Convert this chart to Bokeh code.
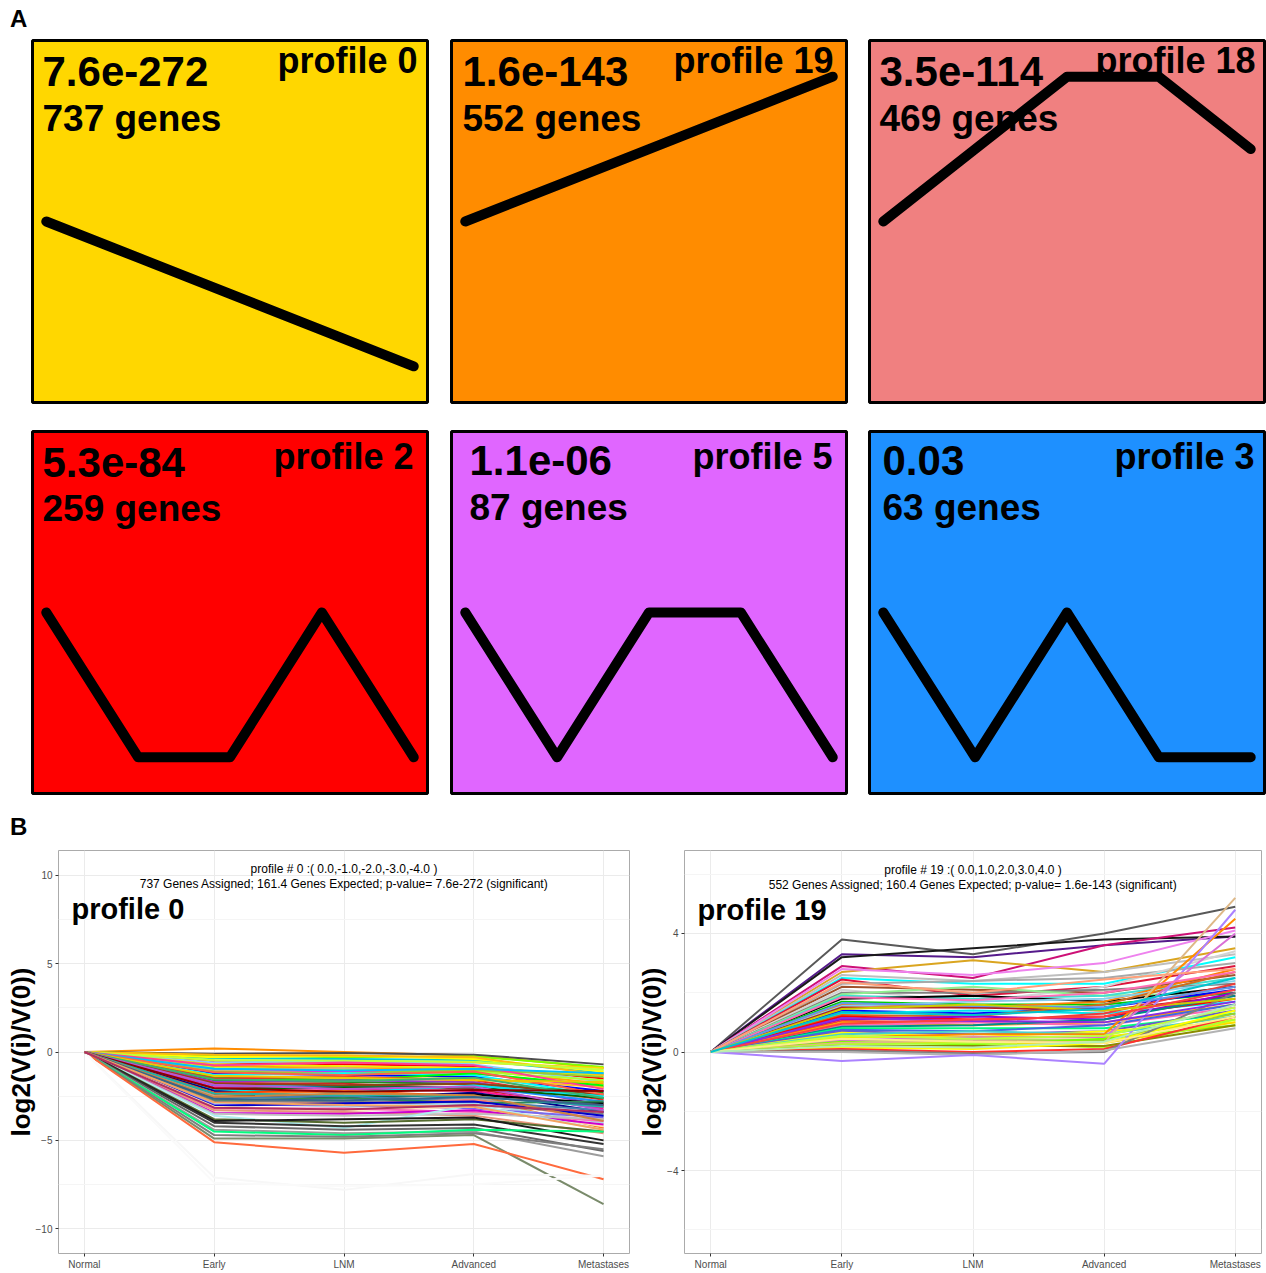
from bokeh.plotting import figure
from bokeh.layouts import column, row
from bokeh.models import Range1d, FixedTicker, Div, Spacer, ColumnDataSource
from bokeh.core.properties import value
from bokeh.embed import file_html
from bokeh.resources import INLINE

FONT = "Liberation Sans"

# ---------------- Panel A : STEM model profiles ----------------
a_profile_ids = ["0", "19", "18", "2", "5", "3"]
a_pvalues = ["7.6e-272", "1.6e-143", "3.5e-114", "5.3e-84", "1.1e-06", "0.03"]
a_gene_counts = [737, 552, 469, 259, 87, 63]
a_model_values = [
    [0, -1, -2, -3, -4],
    [0, 1, 2, 3, 4],
    [0, 1, 2, 2, 1],
    [0, -1, -1, 0, -1],
    [0, -1, 0, 0, -1],
    [0, -1, 0, -1, -1],
]
a_box_colors = ["#FFD700", "#FF8C00", "#F08080", "#FF0000", "#E066FF", "#1E90FF"]
a_time_points = [0, 1, 2, 3, 4]

# ---------------- Panel B : gene expression traces ----------------
b_stages = ["Normal", "Early", "LNM", "Advanced", "Metastases"]
b_stage_index = [0, 1, 2, 3, 4]

# profile 0 genes
p0_early = [0.2, -0.1, -0.2, -0.35, -0.3, -0.5, -0.6, -0.6, -0.7, -0.8, -0.9, -1.0, -1.05, -1.1,
            -1.2, -1.3, -1.4, -1.45, -1.5, -1.6, -1.7, -1.75, -1.8, -1.9, -2.0, -2.1, -2.15, -2.2,
            -2.3, -2.4, -2.45, -2.5, -2.6, -2.7, -2.75, -2.8, -2.9, -3.0, -3.05, -3.1, -3.2, -3.3,
            -3.45, -3.5, -3.6, -3.8, -3.9, -4.0, -4.2, -4.4, -4.5, -4.7, -4.9, -5.1, -7.1, -7.4,
            -0.15, -0.45, -0.75, -0.95, -1.15, -1.35, -1.55, -1.85, -2.05, -2.35, -2.55, -2.65,
            -2.85, -3.15]
p0_lnm = [0.0, -0.05, -0.3, -0.4, -0.2, -0.6, -0.7, -0.5, -0.8, -0.9, -1.0, -1.1, -0.9, -1.2,
          -1.3, -1.2, -1.5, -1.6, -1.4, -1.7, -1.6, -1.8, -1.9, -2.0, -2.1, -2.0, -2.3, -2.6,
          -2.2, -2.6, -2.2, -2.7, -2.5, -2.9, -2.6, -2.8, -3.1, -3.0, -2.9, -3.3, -3.2, -3.4,
          -3.5, -3.6, -4.3, -4.0, -3.8, -4.2, -4.4, -4.6, -4.7, -4.8, -4.9, -5.7, -7.8, -7.6,
          -0.2, -0.5, -0.6, -1.05, -1.3, -1.45, -1.65, -2.1, -2.25, -2.45, -2.35, -2.75,
          -3.0, -3.25]
p0_adv = [-0.2, -0.15, -0.25, -0.45, -0.4, -0.6, -0.8, -0.7, -0.9, -1.0, -1.1, -1.2, -1.3, -1.0,
          -1.4, -1.3, -1.5, -1.2, -1.6, -1.8, -1.7, -2.1, -1.8, -2.0, -2.2, -2.0, -1.9, -2.3,
          -2.5, -2.4, -2.6, -2.6, -2.8, -2.7, -2.9, -3.0, -2.9, -3.2, -2.8, -3.1, -3.4, -3.6,
          -3.3, -3.5, -3.0, -3.8, -3.7, -4.1, -4.3, -4.5, -4.4, -4.6, -4.7, -5.2, -6.9, -7.5,
          -0.3, -0.55, -0.75, -0.95, -1.1, -1.6, -1.45, -1.95, -2.15, -2.5, -2.45, -2.55,
          -3.1, -3.0]
p0_met = [-0.9, -0.7, -0.85, -1.2, -1.1, -0.9, -1.5, -1.7, -1.3, -1.8, -1.6, -2.0, -2.9, -1.4,
          -2.2, -2.5, -2.0, -1.9, -2.7, -2.3, -3.0, -3.1, -2.4, -2.8, -3.2, -2.6, -2.5, -3.4,
          -3.0, -2.9, -4.3, -3.6, -3.3, -3.8, -2.8, -3.5, -4.0, -3.7, -3.6, -4.2, -3.9, -4.6,
          -4.1, -3.8, -4.4, -4.5, -5.0, -5.2, -5.6, -5.9, -4.5, -5.5, -8.6, -7.2, -7.0, -7.0,
          -1.3, -1.0, -2.1, -1.2, -2.4, -1.7, -2.6, -3.3, -2.2, -3.1, -3.9, -3.0,
          -4.4, -3.4]
p0_colors = ["#FF8C00", "#4D4D4D", "#7FFF00", "#00CED1", "#FFFF00", "#FFD700", "#FF0000", "#87CEFA",
             "#EEEE00", "#FFA500", "#ADFF2F", "#FF00FF", "#D2B48C", "#9ACD32", "#0000FF", "#00FFFF",
             "#FFC125", "#00FF00", "#EE2C2C", "#228B22", "#9932CC", "#CD2626", "#8B4513", "#1E90FF",
             "#FF1493", "#006400", "#00E5EE", "#00008B", "#FF4500", "#000000", "#FF7F24", "#A9A9A9",
             "#4682B4", "#FA8072", "#2E8B57", "#808080", "#ADD8E6", "#7B68EE", "#0000CD", "#FFE4B5",
             "#FF69B4", "#E9967A", "#CD00CD", "#BEBEBE", "#AEEEEE", "#556B2F", "#1A1A1A", "#333333",
             "#696969", "#9C9C9C", "#00FF7F", "#7F7F7F", "#7A8B6B", "#FF6A3D", "#F7F7F7", "#FAFAFA",
             "#FFB90F", "#C0FF3E", "#FF3E96", "#00BFFF", "#FF6347", "#EEC900", "#3CB371", "#BA55D3",
             "#8B0000", "#20B2AA", "#CD853F", "#36648B", "#F4A460", "#B03060"]
p0_normal = [0.0] * len(p0_early)

# profile 19 genes
p19_early = [3.8, 3.3, 3.2, 2.9, 2.7, 2.8, 2.6, 2.5, 2.45, 2.3, 2.2, 2.1, 2.0, 1.95, 1.9, 1.8,
             1.7, 1.6, 1.55, 1.5, 1.4, 1.3, 1.25, 1.2, 1.1, 1.05, 1.0, 0.9, 0.85, 0.8, 0.75, 0.7,
             0.65, 0.6, 0.5, 0.5, 0.4, 0.4, 0.35, 0.3, 0.3, 0.25, 0.2, 0.15, 0.1, 0.05, 0.0, -0.3,
             1.85, 1.65, 1.45, 1.15, 0.95, 0.55, 0.45, 0.2, 2.35, 1.35]
p19_lnm = [3.3, 3.2, 3.5, 2.5, 3.1, 2.6, 2.4, 2.3, 1.9, 2.4, 2.1, 1.7, 2.0, 2.2, 1.8, 1.9,
           1.6, 1.5, 1.7, 1.5, 1.3, 1.4, 1.2, 1.1, 1.2, 1.0, 0.9, 1.0, 0.9, 0.8, 0.7, 0.6,
           0.5, 0.7, 0.6, 0.5, 0.4, 0.5, 0.25, 0.3, 0.4, 0.3, 0.2, 0.1, 0.0, -0.05, -0.1, -0.1,
           1.75, 1.55, 1.6, 1.05, 1.1, 0.45, 0.35, 0.15, 2.0, 1.25]
p19_adv = [4.0, 3.6, 3.8, 3.6, 2.7, 3.0, 2.7, 2.3, 2.2, 2.5, 2.0, 2.2, 2.1, 1.9, 1.9, 1.7,
           1.6, 1.7, 1.8, 1.4, 1.5, 1.3, 1.6, 1.2, 1.1, 1.3, 1.0, 0.9, 1.1, 0.8, 0.9, 0.7,
           0.7, 0.6, 0.6, 0.5, 0.4, 0.5, 0.45, 0.3, 0.3, 0.15, 0.2, 0.3, 0.1, 0.0, 0.05, -0.4,
           2.0, 1.5, 1.4, 1.0, 1.2, 0.55, 0.3, 0.35, 2.45, 1.45]
p19_met = [4.9, 3.9, 3.9, 4.2, 3.5, 4.1, 3.3, 3.2, 2.9, 3.0, 2.6, 3.4, 2.3, 2.0, 2.5, 2.2,
           2.0, 2.8, 2.4, 1.9, 2.1, 1.7, 2.7, 1.8, 2.0, 2.3, 1.6, 1.5, 1.9, 1.3, 1.6, 1.4,
           1.0, 1.2, 4.5, 1.1, 1.3, 4.0, 0.9, 1.0, 5.2, 1.1, 0.9, 1.4, 1.2, 2.0, 0.8, 4.8,
           2.7, 2.2, 1.8, 1.7, 2.1, 1.5, 1.2, 1.6, 2.8, 2.5]
p19_colors = ["#595959", "#551A8B", "#1A1A1A", "#CD1076", "#DAA520", "#EE82EE", "#BEBEBE", "#00FFFF",
              "#DC143C", "#A9A9A9", "#A0522D", "#D3D3D3", "#808080", "#90EE90", "#40E0D0", "#000000",
              "#00CD00", "#FF7F00", "#87CEEB", "#B22222", "#0000FF", "#00E5EE", "#D2691E", "#FF0000",
              "#9400D3", "#EE3B3B", "#FFA500", "#FF69B4", "#008B8B", "#00FF7F", "#4169E1", "#6A5ACD",
              "#FFFF00", "#48D1CC", "#FF8C00", "#EEEE00", "#9ACD32", "#DA70D6", "#7CFC00", "#FFD700",
              "#DEB887", "#ADFF2F", "#8B8B00", "#FFFF00", "#FF3030", "#7F7F7F", "#B3B3B3", "#AB82FF",
              "#FF6EB4", "#6495ED", "#CDCD00", "#8A2BE2", "#FF4040", "#C0FF3E", "#FFEC8B", "#B4EEB4",
              "#FFA07A", "#00C5CD"]
p19_normal = [0.0] * len(p19_early)

# ---------------- Panel A figures ----------------
BOX_W, BOX_H, PAD = 395, 362, 2
a_left_inset = [10, 11, 10, 10, 18, 13]
a_right_inset = [10, 13, 9, 14, 14, 10]
a_baselines = [(31, 78, 20), (31, 78, 20), (31, 78, 20), (31, 77, 25), (29, 76, 25), (29, 76, 25)]


def profile_box(i):
    vals = a_model_values[i]
    lim = 1.25 * max(abs(v) for v in vals)
    xr = Range1d(-0.15, 4.15)
    yr = Range1d(-lim, lim)
    p = figure(width=BOX_W + 2 * PAD, height=BOX_H + 2 * PAD, x_range=xr, y_range=yr,
               x_axis_type=None, y_axis_type=None, output_backend="svg",
               toolbar_location=None, min_border=PAD)
    p.grid.visible = False
    p.background_fill_color = a_box_colors[i]
    p.border_fill_color = "white"
    p.outline_line_color = "black"
    p.outline_line_width = 3

    def dx(px):
        return xr.start + px / BOX_W * (xr.end - xr.start)

    def dy(px):
        return yr.end - px / BOX_H * (yr.end - yr.start)

    b1, b2, b3 = a_baselines[i]
    common = dict(text_font=value(FONT), text_font_style="bold", text_baseline="alphabetic",
                  text_color="black")
    p.text(x=[dx(a_left_inset[i])], y=[dy(b1)], text=[a_pvalues[i]], text_align="left",
           text_font_size="42px", **common)
    p.text(x=[dx(a_left_inset[i])], y=[dy(b2)], text=["%d genes" % a_gene_counts[i]],
           text_align="left", text_font_size="37px", **common)
    p.text(x=[dx(BOX_W - a_right_inset[i])], y=[dy(b3)], text=["profile " + a_profile_ids[i]],
           text_align="right", text_font_size="36px", **common)
    p.line(a_time_points, vals, line_width=10, line_color="black", line_cap="round",
           line_join="round")
    return p


boxes = [profile_box(i) for i in range(6)]

# ---------------- Panel B figures ----------------


def gene_fig(normal, early, lnm, adv, met, colors, ylim, yticks, yminor, title1, title2,
             big, big_x, big_y, t_y1, t_y2, width, bl, br):
    n = len(early)
    src = ColumnDataSource(dict(
        xs=[list(b_stage_index) for _ in range(n)],
        ys=[[normal[k], early[k], lnm[k], adv[k], met[k]] for k in range(n)],
        c=colors,
    ))
    p = figure(width=width, height=431, x_range=Range1d(-0.2, 4.2),
               y_range=Range1d(-ylim, ylim), output_backend="svg", toolbar_location=None,
               min_border_left=bl, min_border_right=br, min_border_top=9, min_border_bottom=16)
    p.background_fill_color = "white"
    p.outline_line_color = "#ABABAB"
    p.outline_line_width = 1
    xt = FixedTicker(ticks=b_stage_index)
    yt = FixedTicker(ticks=yticks, minor_ticks=yminor)
    p.xaxis.ticker = xt
    p.xgrid.ticker = xt
    p.yaxis.ticker = yt
    p.ygrid.ticker = yt
    p.xaxis.major_label_overrides = {i: s for i, s in zip(b_stage_index, b_stages)}
    p.grid.grid_line_color = "#EBEBEB"
    p.grid.grid_line_width = 1
    p.ygrid.minor_grid_line_color = "#F5F5F5"
    p.axis.axis_line_color = None
    p.axis.minor_tick_line_color = None
    p.axis.major_tick_line_color = "#333333"
    p.axis.major_tick_out = 3
    p.axis.major_tick_in = 0
    p.axis.major_label_standoff = 2
    p.axis.major_label_text_font = FONT
    p.axis.major_label_text_font_size = "10px"
    p.axis.major_label_text_color = "#4D4D4D"
    p.yaxis.axis_label = "log2(V(i)/V(0))"
    p.yaxis.axis_label_text_font = FONT
    p.yaxis.axis_label_text_font_style = "bold"
    p.yaxis.axis_label_text_font_size = "26px"
    p.yaxis.axis_label_text_color = "black"
    p.yaxis.axis_label_standoff = -3

    p.multi_line("xs", "ys", source=src, line_color="c", line_width=2)

    p.text(x=[2], y=[t_y1], text=[title1], text_font=value(FONT), text_font_size="12px",
           text_align="center", text_baseline="middle", text_color="black")
    p.text(x=[2], y=[t_y2], text=[title2], text_font=value(FONT), text_font_size="12px",
           text_align="center", text_baseline="middle", text_color="black")
    p.text(x=[big_x], y=[big_y], text=[big], text_font=value(FONT), text_font_size="29px",
           text_font_style="bold", text_align="left", text_baseline="alphabetic",
           text_color="black")
    return p


fig_b0 = gene_fig(p0_normal, p0_early, p0_lnm, p0_adv, p0_met, p0_colors, 11.4,
                  [-10, -5, 0, 5, 10], [-7.5, -2.5, 2.5, 7.5],
                  "profile # 0 :( 0.0,-1.0,-2.0,-3.0,-4.0 )",
                  "737 Genes Assigned; 161.4 Genes Expected; p-value= 7.6e-272 (significant)",
                  "profile 0", -0.1, 8.1, 10.34, 9.49, 631, 58, 2)
fig_b19 = gene_fig(p19_normal, p19_early, p19_lnm, p19_adv, p19_met, p19_colors, 6.8,
                   [-4, 0, 4], [-6, -2, 2, 6],
                   "profile # 19 :( 0.0,1.0,2.0,3.0,4.0 )",
                   "552 Genes Assigned; 160.4 Genes Expected; p-value= 1.6e-143 (significant)",
                   "profile 19", -0.1, 4.8, 6.15, 5.65, 634, 53, 4)


def panel_label(letter, pad_top, h):
    return Div(text=("<div style=\"margin:0;padding:%dpx 0 0 10px;font-family:'Liberation Sans';"
                     "font-weight:bold;font-size:24px;line-height:24px;color:black\">%s</div>")
               % (pad_top, letter), width=1266, height=h, margin=(0, 0, 0, 0))


def sp(w, h):
    return Spacer(width=w, height=h, margin=(0, 0, 0, 0))


FIG_H = BOX_H + 2 * PAD
rowA1 = row([sp(30, FIG_H), boxes[0], sp(20, FIG_H), boxes[1], sp(19, FIG_H), boxes[2]], spacing=0)
rowA2 = row([sp(30, FIG_H), boxes[3], sp(20, FIG_H), boxes[4], sp(19, FIG_H), boxes[5]], spacing=0)
rowB = row([fig_b0, fig_b19], spacing=0)

layout = column([panel_label("A", 7, 38), rowA1, sp(1266, 25),
                 rowA2, panel_label("B", 20, 46), rowB], spacing=0)

open("out.html", "w").write(file_html(layout, INLINE))
